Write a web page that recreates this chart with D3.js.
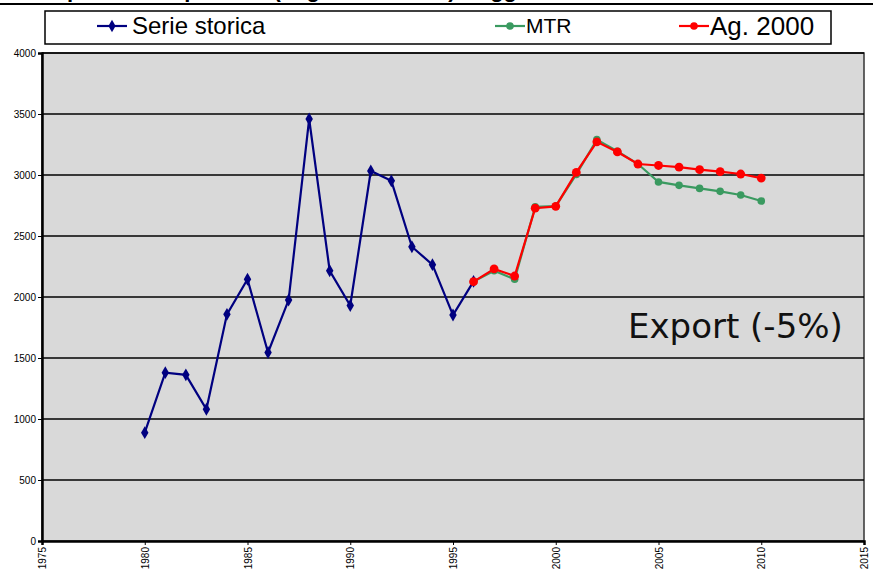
<!DOCTYPE html>
<html>
<head>
<meta charset="utf-8">
<script src="https://cdn.jsdelivr.net/npm/d3@7"></script>
<style>
  body { margin: 0; background: #fff; }
</style>
</head>
<body>
<div id="chart"></div>
<script>
// width and height
var w = 873;
var h = 574;

// data
var storicaYears = [1980,1981,1982,1983,1984,1985,1986,1987,1988,1989,1990,1991,1992,1993,1994,1995,1996];
var storicaValues = [888,1380,1362,1080,1858,2145,1545,1975,3459,2215,1930,3033,2952,2412,2265,1852,2128];

var prevYears = [1996,1997,1998,1999,2000,2001,2002,2003,2004,2005,2006,2007,2008,2009,2010];
var mtrValues = [2126,2215,2145,2740,2745,3005,3290,3195,3090,2943,2915,2890,2866,2836,2787];
var ag2000Values = [2126,2230,2172,2728,2743,3021,3272,3189,3090,3078,3064,3044,3027,3008,2975];

var yTicks = [0,500,1000,1500,2000,2500,3000,3500,4000];
var xTicks = [1975,1980,1985,1990,1995,2000,2005,2010,2015];

var seriesNames = ["Serie storica","MTR","Ag. 2000"];
var seriesColors = ["#000080","#3a9a60","#ff0000"];

var plotL = 42, plotR = 864, plotT = 53, plotB = 541;
var sans = "'Liberation Sans', Arial, sans-serif";

var x = d3.scaleLinear().domain([1975,2015]).range([plotL,plotR]);
var y = d3.scaleLinear().domain([0,4000]).range([plotB,plotT]);

var svg = d3.select("#chart")
            .append("svg")
            .attr("width",w)
            .attr("height",h)
            .style("font-family",sans);

// cut-off title at the very top
svg.append("text")
    .attr("x",40)
    .attr("y",-3)
    .attr("font-size",22)
    .attr("font-weight","bold")
    .text("Esportazione prodotti (migliaia di tonn.) - Aggiornamento 2000");
svg.append("line")
    .attr("x1",0).attr("x2",w)
    .attr("y1",4).attr("y2",4)
    .attr("stroke","#000").attr("stroke-width",2);

// plot background
svg.append("rect")
    .attr("x",plotL).attr("y",plotT)
    .attr("width",plotR-plotL).attr("height",plotB-plotT)
    .attr("fill","#d9d9d9")
    .attr("stroke","#333")
    .attr("stroke-width",1.5);

// gridlines
svg.selectAll(".grid")
    .data(yTicks.slice(1))
    .enter()
    .append("line")
    .attr("class","grid")
    .attr("x1",plotL).attr("x2",plotR)
    .attr("y1",function(d){ return y(d); })
    .attr("y2",function(d){ return y(d); })
    .attr("stroke","#000")
    .attr("stroke-width",1.6);

// axes
var yAxis = d3.axisLeft(y).tickValues(yTicks).tickSize(4).tickPadding(2).tickFormat(d3.format("d"));
var gy = svg.append("g").attr("transform","translate("+plotL+",0)").call(yAxis);
gy.select(".domain").attr("stroke-width",2.5);
gy.selectAll("text").attr("font-size",10).attr("fill","#000").style("font-family",sans);

var xAxis = d3.axisBottom(x).tickValues(xTicks).tickSize(4).tickFormat(d3.format("d"));
var gx = svg.append("g").attr("transform","translate(0,"+plotB+")").call(xAxis);
gx.select(".domain").attr("stroke-width",2.5);
gx.selectAll("text")
    .attr("font-size",10)
    .attr("fill","#000")
    .style("font-family",sans)
    .attr("transform","rotate(-90)")
    .attr("x",-6)
    .attr("y",0)
    .attr("dy","0.35em")
    .attr("text-anchor","end");

// lines
var line = d3.line()
    .x(function(d){ return x(d[0]); })
    .y(function(d){ return y(d[1]); });

var storica = d3.zip(storicaYears,storicaValues);
var mtr = d3.zip(prevYears,mtrValues);
var ag2000 = d3.zip(prevYears,ag2000Values);

svg.append("path").datum(mtr).attr("d",line)
    .attr("fill","none").attr("stroke",seriesColors[1]).attr("stroke-width",2.2);
svg.selectAll(".mtr").data(mtr).enter().append("circle")
    .attr("class","mtr")
    .attr("cx",function(d){ return x(d[0]); })
    .attr("cy",function(d){ return y(d[1]); })
    .attr("r",3.8)
    .attr("fill",seriesColors[1]);

svg.append("path").datum(storica).attr("d",line)
    .attr("fill","none").attr("stroke",seriesColors[0]).attr("stroke-width",2.2);
svg.selectAll(".sto").data(storica).enter().append("path")
    .attr("class","sto")
    .attr("d",d3.symbol().type(d3.symbolDiamond).size(48))
    .attr("transform",function(d){ return "translate("+x(d[0])+","+y(d[1])+")"; })
    .attr("fill",seriesColors[0]);

svg.append("path").datum(ag2000).attr("d",line)
    .attr("fill","none").attr("stroke",seriesColors[2]).attr("stroke-width",2.2);
svg.selectAll(".ag").data(ag2000).enter().append("circle")
    .attr("class","ag")
    .attr("cx",function(d){ return x(d[0]); })
    .attr("cy",function(d){ return y(d[1]); })
    .attr("r",4.4)
    .attr("fill",seriesColors[2]);

// annotation
svg.append("text")
    .attr("x",628).attr("y",338)
    .style("font-family","'DejaVu Sans', Verdana, sans-serif")
    .attr("font-size",34)
    .attr("fill","#111")
    .text("Export (-5%)");

// legend
svg.append("rect")
    .attr("x",45).attr("y",11)
    .attr("width",786).attr("height",33)
    .attr("fill","#fff")
    .attr("stroke","#000")
    .attr("stroke-width",1.5);

var legendX = [97,495,679];
var legendSize = [24,21,26];
var lg = svg.selectAll(".leg")
    .data(seriesNames)
    .enter()
    .append("g")
    .attr("class","leg")
    .attr("transform",function(d,i){ return "translate("+legendX[i]+",26)"; });
lg.append("line")
    .attr("x1",0).attr("x2",30).attr("y1",0).attr("y2",0)
    .attr("stroke",function(d,i){ return seriesColors[i]; })
    .attr("stroke-width",2.2);
lg.each(function(d,i){
    var g = d3.select(this);
    if(i==0){
        g.append("path").attr("d",d3.symbol().type(d3.symbolDiamond).size(44))
            .attr("transform","translate(15,0)").attr("fill",seriesColors[i]);
    } else {
        g.append("circle").attr("cx",15).attr("cy",0).attr("r",3.8).attr("fill",seriesColors[i]);
    }
});
lg.append("text")
    .attr("x",function(d,i){ return i==0 ? 35 : 31; })
    .attr("y",0)
    .attr("dy","0.35em")
    .attr("font-size",function(d,i){ return legendSize[i]; })
    .attr("fill","#000")
    .text(function(d){ return d; });
</script>
</body>
</html>
